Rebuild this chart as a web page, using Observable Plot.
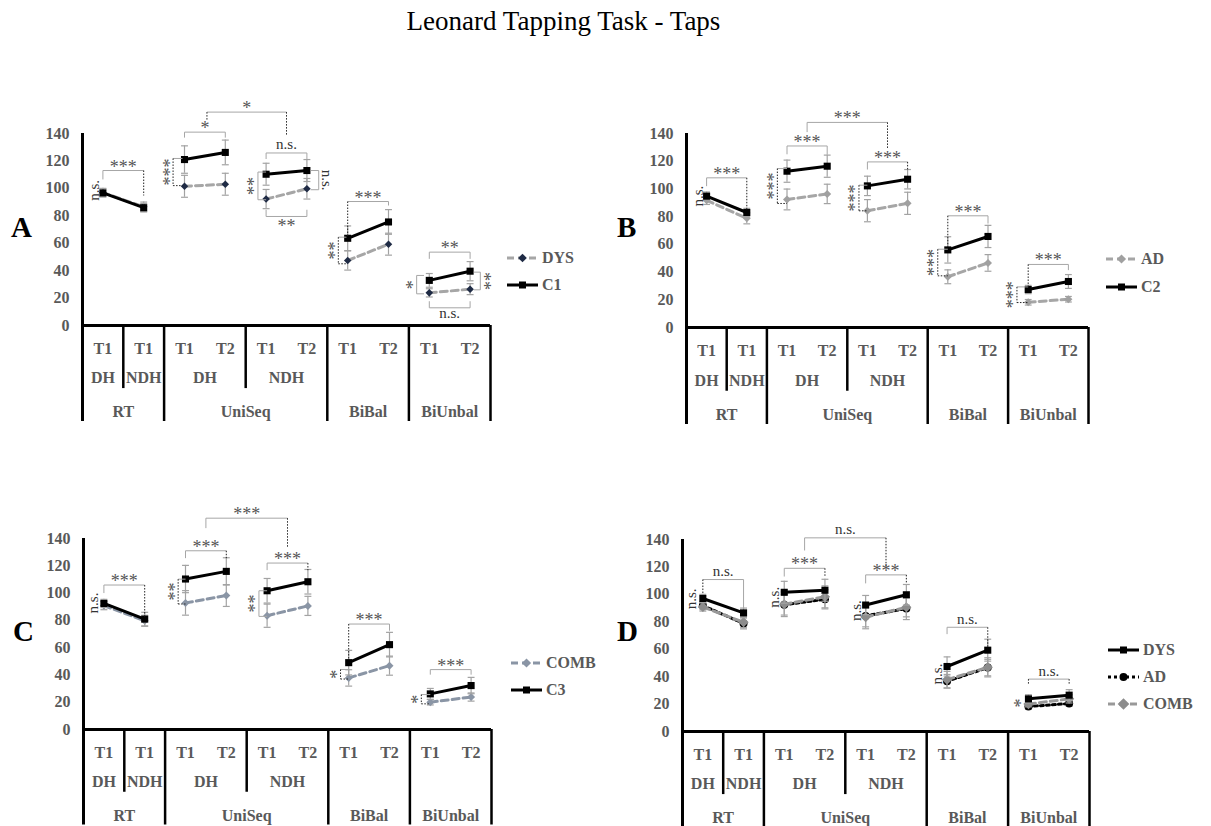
<!DOCTYPE html>
<html><head><meta charset="utf-8">
<script src="https://cdn.jsdelivr.net/npm/d3@7"></script>
<script src="https://cdn.jsdelivr.net/npm/@observablehq/plot@0.6"></script>
<style>
body{margin:0;background:#fff;}
#root{position:relative;width:1211px;height:826px;overflow:hidden;font-family:"Liberation Serif","Times New Roman",Times,Tinos,"DejaVu Serif",serif;background:#fff;}
.title{position:absolute;left:0;width:1127px;top:8px;text-align:center;font-size:27px;line-height:27px;color:#000;}
.letter{position:absolute;font-size:29px;line-height:29px;font-weight:bold;color:#000;}
.leg{position:absolute;display:flex;align-items:center;height:16px;}
.leg span{font-size:16px;line-height:16px;font-weight:bold;color:#595959;margin-left:4px;white-space:nowrap;}
</style></head><body><div id="root"></div><script>
// ---------- categories ----------
const task = ["RT","RT","UniSeq","UniSeq","UniSeq","UniSeq","BiBal","BiBal","BiUnbal","BiUnbal"];
const hand = ["DH","NDH","DH","DH","NDH","NDH","","","",""];
const time = ["T1","T1","T1","T2","T1","T2","T1","T2","T1","T2"];
const yTicks = [0,20,40,60,80,100,120,140];

// ---------- series (mean taps, error) ----------
const DYS      = [97, 86.5, 101.5, 103, 92.2, 99.7, 47.4, 59.3, 23.8, 26.5];
const DYS_err  = [3, 3.5, 8, 8, 7, 7.5, 7, 8, 3, 4];
const C1       = [96.7, 85.9, 121, 126.2, 110.3, 113, 63.6, 75.5, 32.9, 39.6];
const C1_err   = [3, 3, 10, 9, 8, 8, 9, 9, 5, 7];
const AD       = [91.8, 78.8, 92.4, 96.4, 84.3, 89.6, 36.6, 46.6, 18.2, 20.4];
const AD_err   = [3, 4, 7.5, 7, 8, 8, 5, 6, 2, 2];
const C2       = [94.8, 83, 112.8, 116.4, 102.2, 107, 56, 65.7, 27.4, 33.2];
const C2_err   = [3, 3, 8, 8, 7, 7, 9.5, 8, 3, 5];
const COMB     = [90.8, 79.7, 92.8, 98.2, 83.4, 90.6, 37.8, 46.8, 20, 23.8];
const COMB_err = [3, 4, 9, 8, 8.5, 7, 6, 7, 2, 3];
const C3       = [92.4, 80.9, 110.3, 115.9, 101.7, 108.3, 49, 62.2, 26.1, 32.2];
const C3_err   = [3, 5, 10, 10, 9, 9, 9, 9, 4, 6];

// ---------- significance annotations ----------
// horizontal brackets: [from, to, level, left leg end, right leg end, label, left dotted, right dotted]
const bracketsA = [
  [0, 1, 113, 106.5, 94.8, "***", 0, 1],
  [2, 3, 141, 137, 137, "*", 0, 0],
  [2.55, 4.5, 155.6, 149.5, 138.5, "*", 1, 1],
  [4, 5, 125.8, 121.4, 121.4, "n.s.", 0, 0],
  [4, 5, 79.5, 84.4, 84.4, "**", 0, 0],
  [6, 7, 90.4, 64.4, 87.5, "***", 1, 0],
  [8, 9, 53.5, 48.6, 48.6, "**", 0, 0],
  [8, 9, 12.9, 17.7, 17.7, "n.s.", 0, 0]
];
// vertical brackets: [position, top, bottom, tick end, label, side, dotted]
const vBracketsA = [
  [1.72, 121.8, 102, 1.95, "***", -1, 1],
  [3.8, 111.9, 91.7, 4.0, "**", -1, 0],
  [5.29, 113, 99, 5.09, "n.s.", 1, 0],
  [5.77, 64.4, 45, 5.97, "**", -1, 1],
  [7.69, 36.5, 23.1, 7.87, "*", -1, 0],
  [9.25, 38.9, 26, 9.09, "**", 1, 0]
];
// side labels: [position, value, label, side]
const sideA = [[-0.18, 98.5, "n.s.", -1]];

const bracketsB = [
  [0, 1, 108, 102, 84.7, "***", 0, 1],
  [2, 3, 131, 125, 125, "***", 0, 0],
  [2.5, 4.5, 148, 141, 129, "***", 0, 1],
  [4, 5, 119.5, 114, 114, "***", 0, 1],
  [6, 7, 80.6, 58.2, 75, "***", 1, 0],
  [8, 9, 45.5, 29.3, 41.4, "***", 1, 0]
];
const vBracketsB = [
  [1.76, 114.7, 89.5, 2.0, "***", -1, 1],
  [3.79, 102.7, 84.2, 4.0, "***", -1, 1],
  [5.75, 56.5, 37.3, 6.0, "***", -1, 1],
  [7.72, 29.3, 18, 8.0, "***", -1, 1]
];
const sideB = [[-0.17, 94.8, "n.s.", -1]];

const bracketsC = [
  [0, 1, 105.9, 100, 82.2, "***", 0, 1],
  [2, 3, 131, 125.6, 125.6, "***", 0, 1],
  [2.5, 4.5, 154.9, 147.6, 134, "***", 0, 1],
  [4, 5, 122, 116.8, 116.8, "***", 0, 1],
  [6, 7, 77.3, 51, 72.4, "***", 1, 0],
  [8, 9, 43.9, 40.2, 40.2, "***", 0, 0]
];
const vBracketsC = [
  [1.82, 110.2, 92, 2.0, "**", -1, 1],
  [3.8, 101.7, 82.9, 4.0, "**", -1, 0],
  [5.8, 44, 37, 6.0, "*", -1, 1],
  [7.78, 25.6, 18.8, 8.0, "*", -1, 1]
];
const sideC = [[-0.23, 92.7, "n.s.", -1]];

const bracketsD = [
  [0, 1, 110.8, 100.3, 90.1, "n.s.", 1, 0],
  [2, 3, 119, 113, 113, "***", 0, 1],
  [2.5, 4.5, 141.2, 132, 119.8, "n.s.", 0, 1],
  [4, 5, 114.2, 108, 108, "***", 0, 1],
  [6, 7, 76, 71, 61.4, "n.s.", 0, 1],
  [8, 9, 38.2, 34.1, 34.1, "n.s.", 1, 1]
];
const vBracketsD = [];
const sideD = [
  [-0.25, 96.7, "n.s.", -1],
  [1.78, 97.9, "n.s.", -1],
  [3.8, 88.1, "n.s.", -1],
  [5.8, 41.9, "n.s.", -1],
  [7.74, 20.7, "*", -1]
];

// ---------- derived structure ----------
function runs(keys){
  const out = [];
  keys.forEach((k,i)=>{
    if (out.length && out[out.length-1].key === k) out[out.length-1].end = i;
    else out.push({key:k, start:i, end:i});
  });
  return out;
}
const handKey = task.map((t,i)=>t+"|"+hand[i]);
const taskRuns = runs(task).map(r=>({...r, label:r.key, mid:(r.start+r.end)/2}));
const handRuns = runs(handKey).map(r=>({...r, task:task[r.start], label:hand[r.start], mid:(r.start+r.end)/2}));
// a line joins the time points of one hand; single-point hands of a task are joined together
const segId = handKey.map((k,i)=>{
  const r = handRuns.find(h=>h.key===k);
  return r.start===r.end ? task[i] : k;
});
const fullDiv = taskRuns.slice(1).map(r=>r.start-0.5).concat([task.length-0.5]);
const partDiv = handRuns.filter((r,j)=>j>0 && r.label!=="" && handRuns[j-1].task===r.task).map(r=>r.start-0.5);
const timeRows = time.map((t,i)=>({i,t}));
const handRows = handRuns.filter(r=>r.label!=="");

const ERR = "#a3a3a3";
const FONT = "\"Liberation Serif\",\"Times New Roman\",Times,Tinos,\"DejaVu Serif\",serif";
const TXT = "#595959";
const STAR_FS = 18, NS_FS = 15;

function rows(vals, errs){ return vals.map((v,i)=>({i, v, e:errs[i], seg:segId[i]})); }

function seriesMarks(s){
  const R = rows(s.vals, s.errs);
  return [
    Plot.ruleX(R, {x:"i", y1:d=>d.v-d.e, y2:d=>d.v+d.e, stroke:ERR, strokeWidth:1.2}),
    Plot.link(R, {x1:d=>d.i-0.085, x2:d=>d.i+0.085, y1:d=>d.v+d.e, y2:d=>d.v+d.e, stroke:ERR, strokeWidth:1.2}),
    Plot.link(R, {x1:d=>d.i-0.085, x2:d=>d.i+0.085, y1:d=>d.v-d.e, y2:d=>d.v-d.e, stroke:ERR, strokeWidth:1.2}),
    Plot.line(R, {x:"i", y:"v", z:"seg", stroke:s.stroke, strokeWidth:3, strokeDasharray:s.dash || null}),
    Plot.dot(R, {x:"i", y:"v", symbol:s.symbol, r:s.r, fill:s.fill, stroke:"none"})
  ];
}

function labStyle(label){
  const star = label.includes("*");
  return {fs: star?STAR_FS:NS_FS, shift: star?0.18:-0.09, fill: star?"#555":"#333"};
}
function textMark(x, y, label, rotate, dx, dy){
  const L = labStyle(label);
  return Plot.text([{x,y,label}], {x:"x", y:"y", text:"label", rotate, dx, dy,
    fontSize:L.fs, fill:L.fill, fontFamily:FONT, textAnchor:"middle", lineAnchor:"middle"});
}

function annotationMarks(hb, vb, side){
  const segs = [];
  const marks = [];
  hb.forEach(([x1,x2,y,e1,e2,label,d1,d2])=>{
    segs.push({x1, x2, y1:y, y2:y, dot:false});
    segs.push({x1:x1, x2:x1, y1:y, y2:e1, dot:!!d1});
    segs.push({x1:x2, x2:x2, y1:y, y2:e2, dot:!!d2});
    const L = labStyle(label);
    const above = e1 < y;
    marks.push(textMark((x1+x2)/2, y, label, 0, 0, (above?-7:7) + L.shift*L.fs));
  });
  vb.forEach(([x,y1,y2,to,label,s,dot])=>{
    segs.push({x1:x, x2:x, y1, y2, dot:!!dot});
    segs.push({x1:x, x2:to, y1:y1, y2:y1, dot:false});
    segs.push({x1:x, x2:to, y1:y2, y2:y2, dot:!!dot});
    const L = labStyle(label);
    marks.push(textMark(x, (y1+y2)/2, label, s<0?-90:90, s*6.5 - s*L.shift*L.fs, 0));
  });
  side.forEach(([x,y,label,s])=>{
    const L = labStyle(label);
    marks.push(textMark(x, y, label, s<0?-90:90, -s*L.shift*L.fs, 0));
  });
  return [
    Plot.link(segs.filter(d=>!d.dot), {x1:"x1", y1:"y1", x2:"x2", y2:"y2", stroke:"#a6a6a6", strokeWidth:1}),
    Plot.link(segs.filter(d=>d.dot), {x1:"x1", y1:"y1", x2:"x2", y2:"y2", stroke:"#222", strokeWidth:1, strokeDasharray:"1.5,1.5"}),
    ...marks
  ];
}

function frameMarks(){
  const tf = {fontFamily:FONT, fontSize:16, fontWeight:"bold", fill:TXT, textAnchor:"middle", lineAnchor:"middle"};
  return [
    Plot.ruleY([0], {x1:-0.5, x2:task.length-0.5, stroke:"#000", strokeWidth:3}),
    Plot.ruleX([-0.5], {y1:-70, y2:140, stroke:"#000", strokeWidth:3}),
    Plot.ruleX(fullDiv, {x:d=>d, y1:0, y2:-70, stroke:"#000", strokeWidth:2.5}),
    Plot.ruleX(partDiv, {x:d=>d, y1:0, y2:-46, stroke:"#000", strokeWidth:2.5}),
    Plot.text(timeRows, {x:"i", y:()=>-17, text:"t", ...tf}),
    Plot.text(handRows, {x:"mid", y:()=>-38.5, text:"label", ...tf}),
    Plot.text(taskRuns, {x:"mid", y:()=>-63, text:"label", ...tf}),
    Plot.text(yTicks, {x:()=>-0.5, y:d=>d, text:d=>String(d), dx:-13, fontFamily:FONT, fontSize:16, fontWeight:"bold", fill:TXT, textAnchor:"end", lineAnchor:"middle"})
  ];
}

const root = document.getElementById("root");

function panel(cfg){
  const mL = 82, mT = 40, mR = 20, mB = 4;
  const plotH = (cfg.y0 - cfg.top) * 1.5;
  const width = mL + (cfg.right - cfg.left) + mR;
  const height = mT + plotH + mB;
  const marks = [];
  cfg.series.forEach(s=>marks.push(...seriesMarks(s)));
  marks.push(...annotationMarks(cfg.hb, cfg.vb, cfg.side));
  marks.push(...frameMarks());
  const chart = Plot.plot({
    width, height, marginLeft:mL, marginRight:mR, marginTop:mT, marginBottom:mB,
    x:{domain:[-0.5, task.length-0.5], axis:null},
    y:{domain:[-70, 140], axis:null},
    style:{fontFamily:FONT, background:"transparent", overflow:"visible", position:"absolute",
      left:(cfg.left-mL)+"px", top:(cfg.top-mT)+"px", maxWidth:"none"},
    marks
  });
  root.appendChild(chart);
  const L = document.createElement("div");
  L.className = "letter"; L.textContent = cfg.letter;
  L.style.left = cfg.letterX+"px"; L.style.top = cfg.letterY+"px";
  root.appendChild(L);
  cfg.legend.forEach((it,k)=>{
    const row = document.createElement("div");
    row.className = "leg";
    row.style.left = cfg.legX+"px"; row.style.top = (cfg.legY[k]-8)+"px";
    const svg = d3.create("svg").attr("width",31).attr("height",16);
    svg.append("line").attr("x1",0).attr("x2",31).attr("y1",8).attr("y2",8)
      .attr("stroke",it.stroke).attr("stroke-width",3).attr("stroke-dasharray",it.dash||null);
    if (it.symbol==="square") svg.append("rect").attr("x",12).attr("y",4.5).attr("width",7).attr("height",7).attr("fill",it.fill);
    else if (it.symbol==="circle") svg.append("circle").attr("cx",15.5).attr("cy",8).attr("r",it.r).attr("fill",it.fill);
    else svg.append("rect").attr("x",15.5-it.r*0.9).attr("y",8-it.r*0.9).attr("width",it.r*1.8).attr("height",it.r*1.8)
      .attr("transform","rotate(45 15.5 8)").attr("fill",it.fill);
    row.appendChild(svg.node());
    const sp = document.createElement("span"); sp.textContent = it.name; row.appendChild(sp);
    root.appendChild(row);
  });
}

const title = document.createElement("div");
title.className = "title"; title.textContent = "Leonard Tapping Task - Taps";
root.appendChild(title);

const sDYSa = {name:"DYS", vals:DYS, errs:DYS_err, stroke:"#a6a6a6", dash:"7,4", symbol:"diamond2", r:3.4, fill:"#1f2b45"};
const sC1   = {name:"C1", vals:C1, errs:C1_err, stroke:"#000", symbol:"square", r:4, fill:"#000"};
const sADb  = {name:"AD", vals:AD, errs:AD_err, stroke:"#a6a6a6", dash:"7,4", symbol:"diamond2", r:3.6, fill:"#a0a0a0"};
const sC2   = {name:"C2", vals:C2, errs:C2_err, stroke:"#000", symbol:"square", r:4, fill:"#000"};
const sCOMBc= {name:"COMB", vals:COMB, errs:COMB_err, stroke:"#8a95a5", dash:"7,4", symbol:"diamond2", r:3.6, fill:"#8a95a5"};
const sC3   = {name:"C3", vals:C3, errs:C3_err, stroke:"#000", symbol:"square", r:4, fill:"#000"};
const sADd  = {name:"AD", vals:AD, errs:AD_err, stroke:"#000", dash:"3,3", symbol:"circle", r:4, fill:"#000"};
const sCOMBd= {name:"COMB", vals:COMB, errs:COMB_err, stroke:"#999", dash:"7,4", symbol:"diamond2", r:4.6, fill:"#8c8c8c"};
const sDYSd = {name:"DYS", vals:DYS, errs:DYS_err, stroke:"#000", symbol:"square", r:4, fill:"#000"};

panel({letter:"A", letterX:11, letterY:213, left:82, top:133, right:490, y0:325,
  series:[sDYSa, sC1], hb:bracketsA, vb:vBracketsA, side:sideA,
  legX:507, legY:[257.7, 285], legend:[sDYSa, sC1]});
panel({letter:"B", letterX:617, letterY:213, left:686, top:133, right:1088, y0:327,
  series:[sADb, sC2], hb:bracketsB, vb:vBracketsB, side:sideB,
  legX:1106, legY:[259.3, 286.7], legend:[sADb, sC2]});
panel({letter:"C", letterX:13, letterY:617, left:83, top:538, right:491, y0:729,
  series:[sCOMBc, sC3], hb:bracketsC, vb:vBracketsC, side:sideC,
  legX:511, legY:[662.7, 690], legend:[sCOMBc, sC3]});
panel({letter:"D", letterX:617, letterY:617, left:682, top:539, right:1089, y0:731,
  series:[sADd, sCOMBd, sDYSd], hb:bracketsD, vb:vBracketsD, side:sideD,
  legX:1108, legY:[650, 677.3, 704.3], legend:[sDYSd, sADd, sCOMBd]});
</script></body></html>
